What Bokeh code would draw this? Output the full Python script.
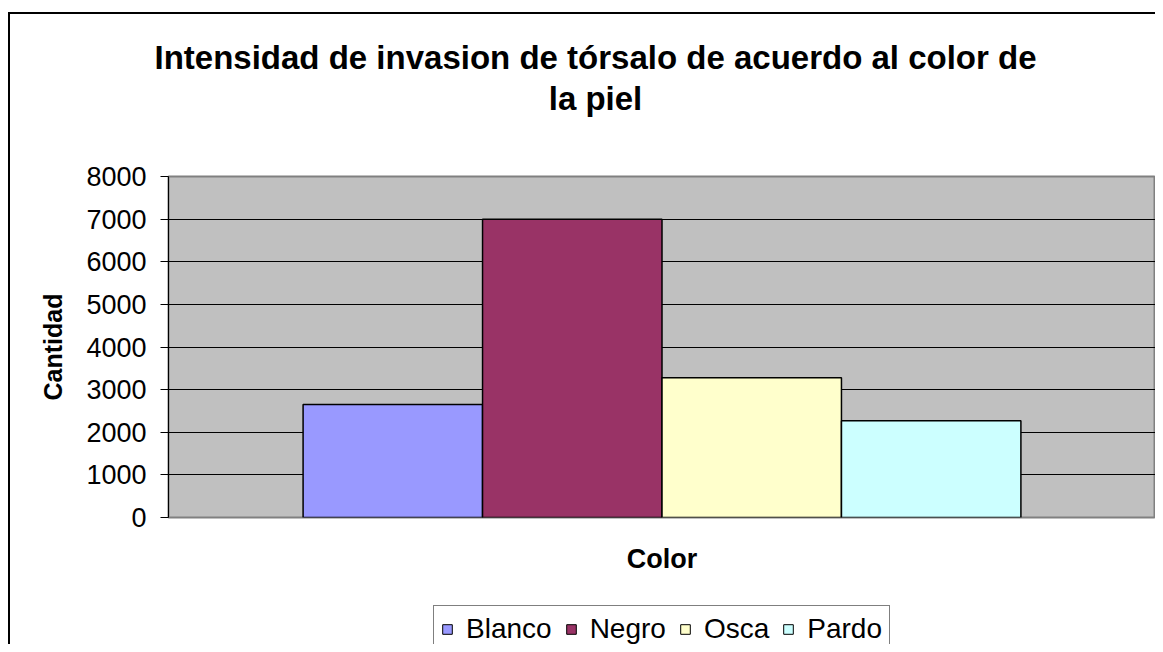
from bokeh.plotting import figure
from bokeh.layouts import column
from bokeh.models import ColumnDataSource, Range1d, FixedTicker, Label, InlineStyleSheet
from bokeh.embed import file_html
from bokeh.resources import INLINE

# ---- data ----
categories = ["Blanco", "Negro", "Osca", "Pardo"]
values = [2650, 7000, 3280, 2270]
colors = ["#9999FF", "#993366", "#FFFFCC", "#CCFFFF"]
y_ticks = [0, 1000, 2000, 3000, 4000, 5000, 6000, 7000, 8000]
title_lines = ["Intensidad de invasion de tórsalo de acuerdo al color de", "la piel"]
x_label = "Color"
y_label = "Cantidad"

FONT = "Liberation Sans"
W = 1155
FRAME_LEFT = 168

n = len(categories)
gap = 1.5  # Excel gap width 150%
half = (n + gap) / 2.0
xs = [i - (n - 1) / 2.0 for i in range(n)]

src = ColumnDataSource(dict(x=xs, top=values, cat=categories, color=colors))

# ---------- header with the two-line title ----------
head = figure(width=W, height=120, x_range=Range1d(0, 1), y_range=Range1d(0, 1),
              x_axis_type=None, y_axis_type=None, min_border=0,
              output_backend="svg", toolbar_location=None)

# ---------- legend strip ----------
leg = figure(width=W, height=54, x_range=Range1d(-50, 50), y_range=Range1d(-20000, 20000),
             x_axis_type=None, y_axis_type=None, min_border=0,
             output_backend="svg", toolbar_location=None)

# let the strips use the full width (no frame alignment with the main plot)
if "frame_align" in head.properties():
    head.frame_align = False
    leg.frame_align = False
    off = 0
else:
    off = FRAME_LEFT

head.outline_line_color = None
head.background_fill_color = "white"
head.border_fill_color = "white"
for line, yy in zip(title_lines, [63, 22]):
    head.add_layout(Label(x=595 - off, y=yy, x_units="screen", y_units="screen", text=line,
                          text_font=FONT, text_font_style="bold", text_font_size="33px",
                          text_color="black", text_align="center", text_baseline="middle"))

# ---------- main plot ----------
p = figure(
    width=W, height=470,
    x_range=Range1d(-half, half), y_range=Range1d(y_ticks[0], y_ticks[-1]),
    output_backend="svg", toolbar_location=None,
    min_border_left=FRAME_LEFT, min_border_right=0, min_border_top=56, min_border_bottom=73,
)
p.background_fill_color = "#C0C0C0"
p.border_fill_color = "white"
p.outline_line_color = "#808080"
p.outline_line_width = 2

p.xgrid.visible = False
p.ygrid.ticker = FixedTicker(ticks=y_ticks)
p.ygrid.grid_line_color = "black"
p.ygrid.grid_line_width = 1

p.yaxis.ticker = FixedTicker(ticks=y_ticks)
p.yaxis.major_label_text_font = FONT
p.yaxis.major_label_text_font_size = "27px"
p.yaxis.major_label_text_color = "black"
p.yaxis.axis_line_color = "black"
p.yaxis.major_tick_line_color = "black"
p.yaxis.major_tick_out = 8
p.yaxis.major_tick_in = 0
p.yaxis.minor_tick_line_color = None
p.yaxis.major_label_standoff = 14
p.yaxis.axis_label = y_label
p.yaxis.axis_label_text_font = FONT
p.yaxis.axis_label_text_font_style = "bold"
p.yaxis.axis_label_text_font_size = "25px"
p.yaxis.axis_label_text_color = "black"
p.yaxis.axis_label_standoff = 16

p.xaxis.ticker = FixedTicker(ticks=[])
p.xaxis.major_label_text_font_size = "0px"
p.xaxis.axis_line_color = None
p.xaxis.major_tick_line_color = None
p.xaxis.minor_tick_line_color = None
p.xaxis.axis_label = x_label
p.xaxis.axis_label_text_font = FONT
p.xaxis.axis_label_text_font_style = "bold"
p.xaxis.axis_label_text_font_size = "27px"
p.xaxis.axis_label_text_color = "black"
p.xaxis.axis_label_standoff = 26

p.vbar(x="x", top="top", bottom=0, width=1.0, source=src,
       fill_color="color", line_color="black", line_width=1.5)

# legend strip: the same bars drawn tiny behind the legend box, which covers them
leg.outline_line_color = None
leg.background_fill_color = "white"
leg.border_fill_color = "white"
leg.vbar(x="x", top="top", bottom=0, width=1.0, source=src,
         fill_color="color", line_color="black", line_width=1,
         legend_field="cat")
lg = leg.legend[0]
lg.orientation = "horizontal"
lg.location = (433 - off, -9)
lg.label_text_font = FONT
lg.label_text_font_size = "28px"
lg.label_text_color = "black"
lg.glyph_width = 12
lg.glyph_height = 12
lg.label_standoff = 13
lg.spacing = 13
lg.padding = 7
lg.margin = 0
lg.border_line_color = "black"
lg.border_line_width = 1
lg.background_fill_color = "white"
lg.background_fill_alpha = 1.0

layout = column(head, p, leg, spacing=0)
layout.stylesheets = [InlineStyleSheet(css="""
:host { position: relative; }
:host::after {
  content: ""; position: absolute; left: 8px; top: 12px; right: 0px; bottom: 0px;
  border-left: 2px solid black; border-top: 2px solid black;
  pointer-events: none; z-index: 10;
}
""")]

open("out.html", "w").write(file_html(layout, INLINE))
